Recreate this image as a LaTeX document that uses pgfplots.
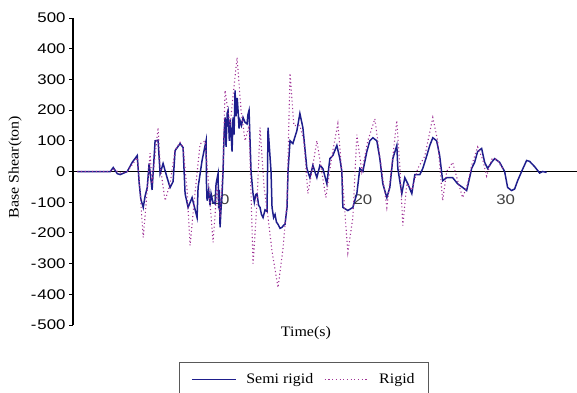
\documentclass[border=0pt]{standalone}
\usepackage{fontspec}
\setmainfont{Liberation Serif}[FakeStretch=1.1]
\newfontfamily\arialf{Liberation Sans}[FakeStretch=1.2]
\usepackage{pgfplots}
\pgfplotsset{compat=1.18}
\definecolor{semic}{RGB}{30,30,140}
\definecolor{rigc}{RGB}{160,50,150}
\begin{document}
\begin{tikzpicture}
\begin{axis}[
  at={(73pt,67pt)}, anchor=south west,
  scale only axis, width=504pt, height=307pt,
  xmin=-0.3, xmax=35, ymin=-500, ymax=500,
  axis x line=middle, axis y line=left,
  axis line style={line width=1.2pt, -},
  set layers,
  xtick={10,20,30}, xticklabels={10,20,30},
  x tick style={draw=none},
  xticklabel style={font=\arialf\fontsize{14}{16}\selectfont, text=black!75, yshift=-16pt},
  ytick={-500,-400,...,500},
  yticklabels={-\kern1pt500,-\kern1pt400,-\kern1pt300,-\kern1pt200,-\kern1pt100,0,100,200,300,400,500},
  y tick style={line width=1pt, black},
  tick align=outside, major tick length=4pt,
  yticklabel style={font=\arialf\fontsize{14}{16}\selectfont, text=black},
  xlabel={Time(s)},
  xlabel style={at={(axis description cs:0.462,-0.026)}, anchor=center, font=\fontsize{14.5}{16}\selectfont},
  ylabel={Base Shear(ton)},
  ylabel style={at={(axis description cs:-0.115,0.515)}, anchor=center, font=\fontsize{14.5}{16}\selectfont},
  legend columns=2,
  legend style={at={(axis description cs:0.21,-0.1205)}, anchor=north west,
    draw=black!65, line width=1pt, inner xsep=12pt, inner ysep=9pt,
    font=\fontsize{14.5}{16}\selectfont,
    /tikz/every odd column/.append style={column sep=8pt},
    /tikz/every even column/.append style={column sep=9pt}},
  legend image code/.code={\draw[#1, line width=1pt] (0pt,0pt) -- (44pt,0pt);},
]
\addplot[semic, line width=1.5pt] coordinates {
(0,0) (2.31,0) (2.52,13) (2.80,-7) (3.01,-10) (3.50,0) (3.85,30) (4.20,52) (4.34,-40) (4.45,-90) (4.62,-117) (4.75,-80) (4.90,-52) (5.03,26) (5.24,-60) (5.45,100) (5.66,102) (5.80,-7) (6.01,26) (6.29,-20) (6.50,-52) (6.71,-33) (6.85,68) (7.20,91) (7.41,78) (7.55,-72) (7.76,-117) (8.04,-85) (8.39,-150) (8.46,-52) (8.74,36) (9.02,100) (9.05,-40) (9.09,-95) (9.20,-60) (9.30,-110) (9.37,-72) (9.50,-100) (9.65,-105) (9.72,-40) (9.86,-7) (9.90,-120) (9.95,-60) (10.00,-182) (10.07,-120) (10.14,-75) (10.21,0) (10.28,120) (10.35,176) (10.42,80) (10.50,190) (10.56,199) (10.65,100) (10.72,170) (10.84,65) (10.91,176) (10.98,120) (11.05,264) (11.12,180) (11.20,240) (11.26,199) (11.33,140) (11.40,166) (11.50,150) (11.61,176) (11.75,160) (11.89,155) (11.95,185) (12.03,199) (12.17,0) (12.31,-72) (12.40,-100) (12.50,-75) (12.59,-72) (12.70,-110) (12.80,-117) (12.90,-140) (13.01,-150) (13.15,-125) (13.29,-130) (13.36,143) (13.57,0) (13.64,-117) (13.75,-150) (13.85,-140) (13.95,-165) (14.06,-172) (14.20,-185) (14.34,-182) (14.45,-175) (14.55,-172) (14.69,-117) (14.76,0) (14.90,100) (15.10,91) (15.38,133) (15.59,189) (15.80,143) (16.08,10) (16.29,-20) (16.50,20) (16.78,-20) (16.99,20) (17.20,10) (17.48,-40) (17.69,42) (17.90,52) (18.18,85) (18.39,42) (18.53,0) (18.60,-117) (18.95,-127) (19.30,-117) (19.58,-72) (19.79,10) (20.00,0) (20.28,65) (20.49,100) (20.70,110) (20.98,100) (21.19,42) (21.40,-40) (21.68,-85) (21.89,-52) (22.10,42) (22.38,85) (22.45,10) (22.73,-72) (22.94,-20) (23.15,-40) (23.43,-72) (23.64,-10) (23.99,-10) (24.20,10) (24.48,52) (24.69,85) (24.90,110) (25.17,100) (25.38,52) (25.59,-30) (25.87,-20) (26.29,-20) (26.64,-40) (26.99,-52) (27.27,-62) (27.48,-20) (27.62,10) (27.83,30) (28.04,65) (28.32,75) (28.53,30) (28.74,10) (29.02,30) (29.23,42) (29.58,30) (29.93,0) (30.14,-52) (30.42,-62) (30.63,-57) (30.84,-30) (31.12,0) (31.47,36) (31.68,33) (32.03,16) (32.38,-5) (32.59,0) (32.87,-3)
};
\addlegendentry{Semi rigid}
\addplot[rigc, line width=1.1pt, dash pattern=on 1.1pt off 2.6pt] coordinates {
(0,0) (2.31,0) (2.52,8) (3.01,-5) (3.50,0) (4.20,45) (4.34,-30) (4.62,-215) (4.90,-60) (5.10,60) (5.24,-40) (5.66,143) (5.80,20) (6.15,-95) (6.50,-40) (6.85,70) (7.20,95) (7.41,80) (7.69,-60) (7.90,-241) (8.18,-100) (8.60,90) (8.95,100) (9.16,-20) (9.51,-231) (9.79,-50) (10.00,-150) (10.21,20) (10.35,264) (10.70,150) (11.19,372) (11.47,200) (11.75,100) (12.03,150) (12.31,-300) (12.59,-100) (12.80,143) (13.08,-50) (13.36,-150) (13.64,-260) (14.06,-378) (14.41,-250) (14.69,-100) (14.90,320) (15.17,150) (15.59,150) (15.87,100) (16.15,-72) (16.43,0) (16.78,100) (17.41,-85) (17.83,50) (18.25,156) (18.53,0) (18.95,-264) (19.30,-150) (19.58,120) (19.93,0) (20.35,100) (20.84,172) (21.19,50) (21.68,-117) (22.03,20) (22.38,166) (22.59,20) (22.80,-176) (23.08,-40) (23.43,-60) (23.85,10) (24.34,50) (24.90,176) (25.24,100) (25.59,-95) (25.87,0) (26.29,30) (26.64,-30) (26.99,-85) (27.34,-40) (27.62,20) (28.04,80) (28.39,40) (28.67,-15) (29.02,40) (29.37,40) (29.79,10)
};
\addlegendentry{Rigid}
\end{axis}
\pgfresetboundingbox
\path[use as bounding box] (0,0) rectangle (577pt,392pt);
\end{tikzpicture}
\end{document}
